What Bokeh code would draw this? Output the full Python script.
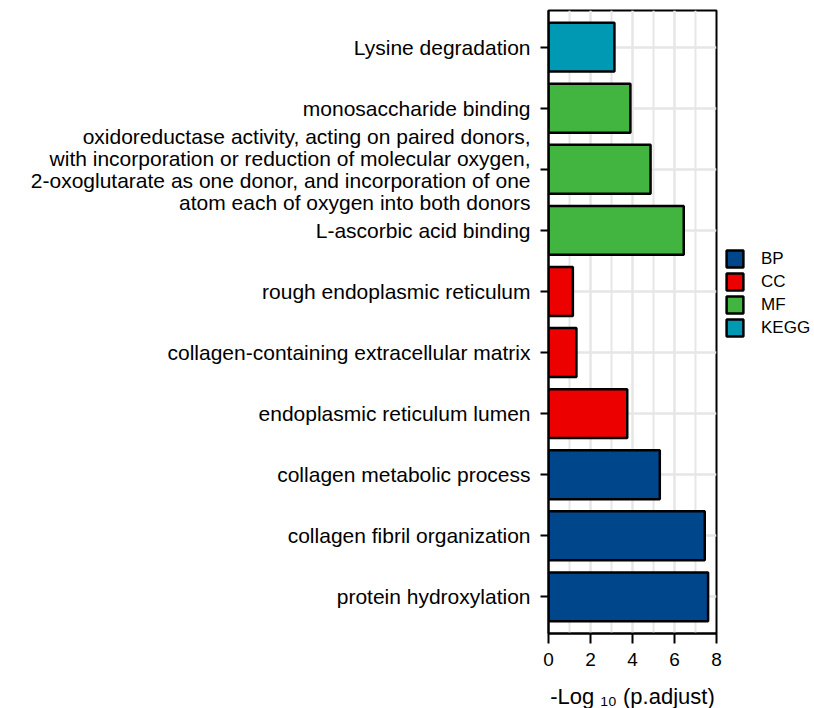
from bokeh.plotting import figure
from bokeh.models import (ColumnDataSource, FactorRange, Range1d, FixedTicker,
                          Legend, LegendItem)
from bokeh.embed import file_html
from bokeh.resources import INLINE

# ---- data (top to bottom as shown) ----
terms = [
    "Lysine degradation",
    "monosaccharide binding",
    "oxidoreductase activity, acting on paired donors,\n"
    "with incorporation or reduction of molecular oxygen,\n"
    "2-oxoglutarate as one donor, and incorporation of one\n"
    "atom each of oxygen into both donors",
    "L-ascorbic acid binding",
    "rough endoplasmic reticulum",
    "collagen-containing extracellular matrix",
    "endoplasmic reticulum lumen",
    "collagen metabolic process",
    "collagen fibril organization",
    "protein hydroxylation",
]
categories = ["KEGG", "MF", "MF", "MF", "CC", "CC", "CC", "BP", "BP", "BP"]
neg_log10_padj = [3.14, 3.9, 4.86, 6.44, 1.16, 1.33, 3.75, 5.3, 7.44, 7.6]
legend_order = ["BP", "CC", "MF", "KEGG"]
x_ticks = [0, 2, 4, 6, 8]
x_minor_ticks = [1, 3, 5, 7]

colors = {"BP": "#00468B", "CC": "#ED0000", "MF": "#42B540", "KEGG": "#0099B4"}
FONT = "Liberation Sans"

y_range = FactorRange(factors=list(reversed(terms)), range_padding=0.1,
                      range_padding_units="absolute")

p = figure(y_range=y_range, x_range=Range1d(0, 8.0),
           frame_width=168, frame_height=623,
           min_border_left=548, min_border_right=88,
           min_border_top=10, min_border_bottom=4,
           output_backend="svg", toolbar_location=None)

items = []
for g in legend_order:
    idx = [i for i, c in enumerate(categories) if c == g]
    src = ColumnDataSource(dict(term=[terms[i] for i in idx],
                                val=[neg_log10_padj[i] for i in idx]))
    r = p.hbar(y="term", right="val", left=0, height=0.8, source=src,
               fill_color=colors[g], line_color="black", line_width=2.5)
    items.append(LegendItem(label=g, renderers=[r]))

legend = Legend(items=items, location=(8, 295), glyph_width=21, glyph_height=21,
                label_standoff=16, spacing=2, padding=0, margin=0,
                border_line_alpha=0, background_fill_alpha=0,
                label_text_font=FONT, label_text_font_size="17px",
                label_text_color="black")
p.add_layout(legend, "right")

# frame / background
p.outline_line_color = "black"
p.outline_line_width = 2
p.outline_line_alpha = 1
p.background_fill_color = "white"
p.border_fill_color = "white"

# grids
p.xgrid.ticker = FixedTicker(ticks=x_ticks, minor_ticks=x_minor_ticks)
p.xgrid.grid_line_color = "#E6E6E6"
p.xgrid.grid_line_width = 2.5
p.xgrid.minor_grid_line_color = "#E6E6E6"
p.xgrid.minor_grid_line_width = 2
p.ygrid.grid_line_color = "#E6E6E6"
p.ygrid.grid_line_width = 2.5

# x axis
xa = p.xaxis[0]
xa.ticker = FixedTicker(ticks=x_ticks, minor_ticks=x_minor_ticks)
xa.axis_label = "-Log \u2081\u2080 (p.adjust)"
xa.axis_label_text_font = FONT
xa.axis_label_text_font_style = "normal"
xa.axis_label_text_font_size = "22px"
xa.axis_label_text_color = "black"
xa.axis_label_standoff = 15
xa.major_label_text_font = FONT
xa.major_label_text_font_size = "19px"
xa.major_label_text_color = "black"
xa.major_label_standoff = 9
xa.major_tick_out = 10
xa.major_tick_in = 0
xa.minor_tick_out = 0
xa.minor_tick_in = 0
xa.major_tick_line_width = 2
xa.axis_line_width = 2
xa.axis_line_color = "black"

# y axis
ya = p.yaxis[0]
ya.major_label_text_font = FONT
ya.major_label_text_font_size = "21px"
ya.major_label_text_line_height = 0.95
ya.major_label_text_color = "black"
ya.major_label_standoff = 10
ya.major_tick_out = 8
ya.major_tick_in = 0
ya.major_tick_line_width = 2
ya.axis_line_width = 2
ya.axis_line_color = "black"

open("out.html", "w").write(file_html(p, INLINE))
